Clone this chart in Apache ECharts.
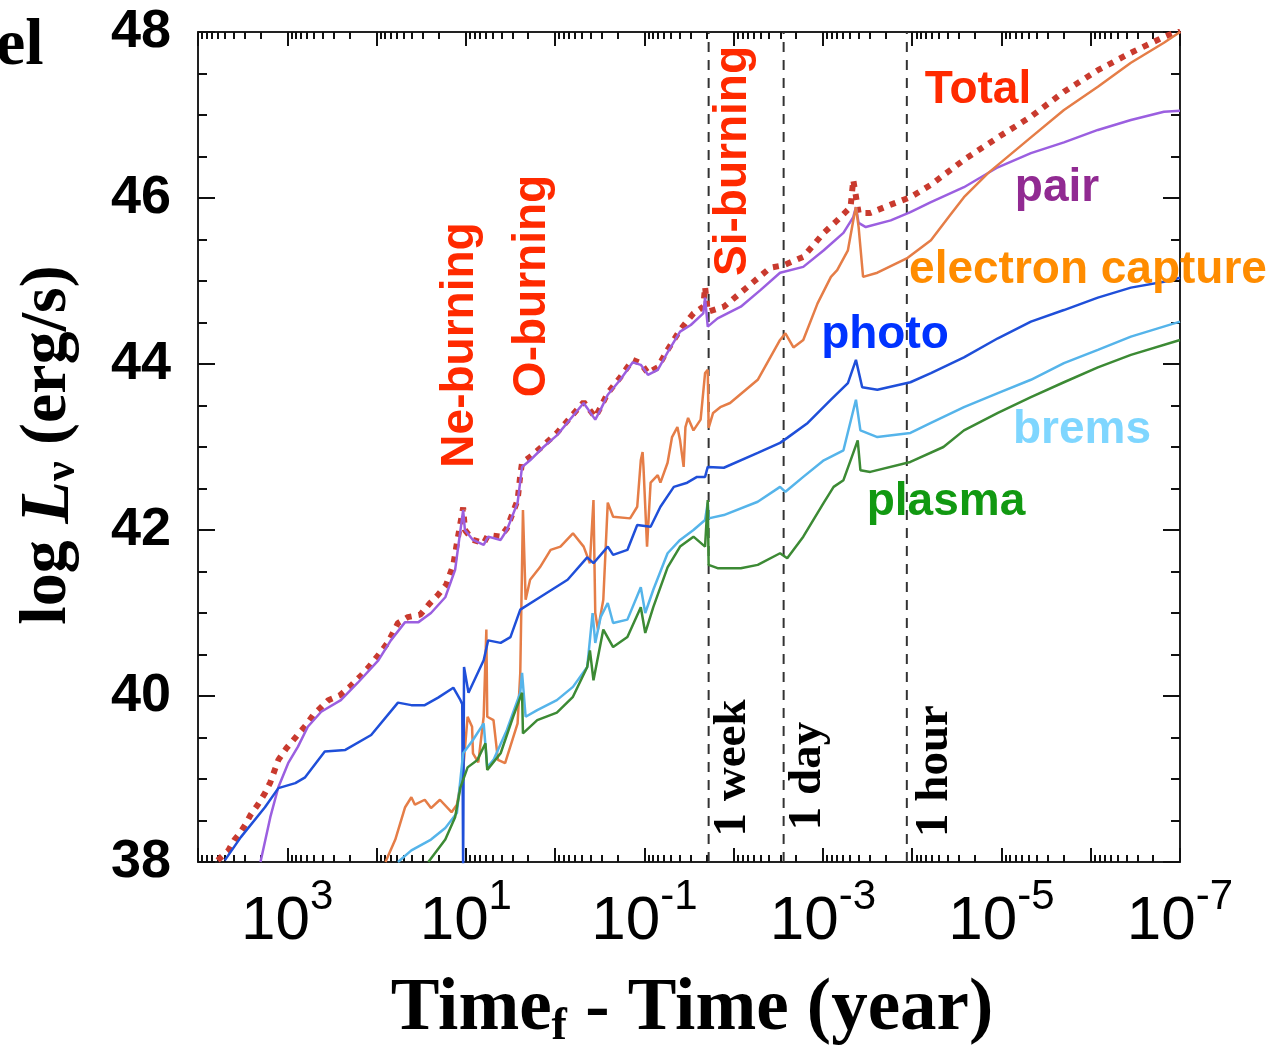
<!DOCTYPE html>
<html>
<head>
<meta charset="utf-8">
<script src="https://cdn.jsdelivr.net/npm/echarts@6/dist/echarts.min.js"></script>
<style>
  html, body { margin: 0; padding: 0; background: #fff; }
  #chart { width: 1277px; height: 1053px; }
</style>
</head>
<body>
<div id="chart"></div>
<script>
// points are [log10(Time_f - Time) in years, log L_nu in erg/s]
var total = [[3.78,38.02],[3.66,38.14],[3.59,38.27],[3.53,38.35],[3.47,38.45],[3.41,38.57],[3.33,38.69],[3.25,38.83],[3.19,38.96],[3.10,39.23],[3.01,39.37],[2.90,39.51],[2.79,39.65],[2.71,39.77],[2.54,39.95],[2.41,40.01],[2.30,40.11],[2.17,40.25],[2.07,40.37],[1.96,40.52],[1.87,40.65],[1.76,40.88],[1.65,40.95],[1.51,40.98],[1.40,41.12],[1.31,41.22],[1.22,41.34],[1.14,41.58],[1.10,41.84],[1.03,42.27],[1.01,42.0],[0.92,41.88],[0.80,41.84],[0.75,41.94],[0.61,41.92],[0.54,42.02],[0.42,42.36],[0.39,42.66],[0.37,42.81],[0.28,42.88],[0.13,43.02],[-0.02,43.17],[-0.32,43.54],[-0.45,43.36],[-0.51,43.48],[-0.59,43.65],[-0.73,43.84],[-0.87,44.05],[-0.96,44.01],[-1.04,43.89],[-1.15,43.96],[-1.26,44.17],[-1.40,44.41],[-1.55,44.61],[-1.66,44.69],[-1.68,44.93],[-1.71,44.63],[-1.89,44.69],[-2.08,44.86],[-2.41,45.16],[-2.56,45.19],[-2.78,45.29],[-3.01,45.58],[-3.16,45.73],[-3.31,45.89],[-3.34,46.22],[-3.40,45.82],[-3.53,45.82],[-3.76,45.92],[-3.98,46.01],[-4.21,46.16],[-4.58,46.46],[-4.96,46.73],[-5.33,46.98],[-5.70,47.28],[-6.08,47.54],[-6.45,47.75],[-6.82,47.94],[-7.0,48.02]];

var pair = [[3.30,38.0],[3.19,38.54],[3.10,38.90],[2.99,39.19],[2.88,39.39],[2.77,39.63],[2.62,39.81],[2.40,39.95],[2.21,40.16],[1.98,40.43],[1.84,40.67],[1.68,40.89],[1.53,40.89],[1.39,41.0],[1.23,41.19],[1.12,41.52],[1.09,41.76],[1.03,42.24],[1.01,42.0],[0.92,41.88],[0.80,41.82],[0.75,41.92],[0.61,41.88],[0.54,42.0],[0.42,42.33],[0.37,42.76],[0.28,42.84],[0.13,43.0],[-0.02,43.14],[-0.32,43.53],[-0.45,43.33],[-0.51,43.45],[-0.59,43.63],[-0.73,43.81],[-0.87,44.02],[-0.96,43.99],[-1.04,43.87],[-1.15,43.93],[-1.26,44.14],[-1.40,44.39],[-1.52,44.47],[-1.66,44.61],[-1.68,44.80],[-1.71,44.45],[-1.82,44.55],[-2.08,44.69],[-2.30,44.89],[-2.52,45.10],[-2.78,45.17],[-3.01,45.37],[-3.23,45.58],[-3.34,45.77],[-3.37,45.89],[-3.40,45.70],[-3.48,45.65],[-3.76,45.73],[-3.98,45.83],[-4.21,45.95],[-4.58,46.13],[-4.96,46.37],[-5.33,46.54],[-5.70,46.67],[-6.08,46.82],[-6.45,46.94],[-6.82,47.04],[-7.0,47.05]];

var electronCapture = [[1.90,38.0],[1.79,38.27],[1.68,38.66],[1.61,38.78],[1.57,38.69],[1.46,38.75],[1.39,38.65],[1.29,38.75],[1.16,38.60],[1.10,38.69],[1.03,39.11],[0.98,39.75],[0.93,39.63],[0.92,39.31],[0.86,39.20],[0.80,39.75],[0.77,40.80],[0.76,39.75],[0.69,39.71],[0.64,39.23],[0.56,39.19],[0.42,39.67],[0.39,40.28],[0.36,42.24],[0.33,41.16],[0.28,41.40],[0.17,41.55],[0.05,41.76],[-0.06,41.80],[-0.20,41.96],[-0.32,41.80],[-0.39,41.60],[-0.43,42.36],[-0.45,41.0],[-0.48,40.80],[-0.54,41.16],[-0.59,42.33],[-0.65,42.16],[-0.84,42.14],[-0.92,42.28],[-0.96,42.84],[-0.98,42.94],[-0.99,42.76],[-1.03,41.80],[-1.07,42.57],[-1.15,42.66],[-1.18,42.57],[-1.26,42.81],[-1.31,43.12],[-1.37,43.24],[-1.40,43.08],[-1.44,42.76],[-1.46,43.24],[-1.49,43.35],[-1.55,43.20],[-1.63,43.33],[-1.68,43.89],[-1.71,43.93],[-1.72,43.23],[-1.77,43.41],[-1.85,43.48],[-1.96,43.53],[-2.27,43.81],[-2.52,44.29],[-2.58,44.37],[-2.67,44.20],[-2.78,44.29],[-2.94,44.73],[-3.09,45.05],[-3.16,45.13],[-3.28,45.37],[-3.34,45.73],[-3.37,45.89],[-3.40,45.65],[-3.45,45.05],[-3.61,45.10],[-3.95,45.28],[-4.21,45.49],[-4.43,45.80],[-4.58,46.01],[-4.85,46.30],[-5.33,46.73],[-5.70,47.06],[-6.08,47.34],[-6.45,47.63],[-6.82,47.87],[-7.0,48.0]];

var photo = [[3.70,38.02],[3.52,38.30],[3.25,38.66],[3.10,38.89],[2.91,38.95],[2.80,39.02],[2.58,39.33],[2.35,39.35],[2.06,39.53],[1.76,39.92],[1.61,39.89],[1.46,39.89],[1.31,39.98],[1.14,40.10],[1.06,39.95],[1.04,39.9],[1.03,37.9],[1.02,40.35],[0.97,40.04],[0.80,40.43],[0.75,40.67],[0.61,40.64],[0.50,40.71],[0.39,41.04],[0.17,41.19],[-0.14,41.40],[-0.36,41.67],[-0.43,41.60],[-0.59,41.80],[-0.65,41.70],[-0.81,41.76],[-0.92,42.06],[-1.07,42.04],[-1.18,42.28],[-1.33,42.52],[-1.48,42.57],[-1.59,42.64],[-1.68,42.64],[-1.71,42.76],[-1.89,42.75],[-2.27,42.93],[-2.52,43.05],[-2.60,43.11],[-2.83,43.29],[-3.09,43.57],[-3.28,43.77],[-3.37,44.05],[-3.44,43.72],[-3.61,43.69],[-3.98,43.78],[-4.21,43.89],[-4.58,44.08],[-4.96,44.31],[-5.33,44.51],[-5.70,44.65],[-6.08,44.80],[-6.45,44.92],[-6.82,44.99],[-7.0,45.04]];

var brems = [[1.76,38.0],[1.61,38.14],[1.39,38.27],[1.23,38.41],[1.10,38.59],[1.03,39.31],[0.92,39.47],[0.80,39.67],[0.76,39.14],[0.69,39.23],[0.54,39.59],[0.39,40.04],[0.37,40.28],[0.33,39.75],[0.20,39.83],[-0.02,39.95],[-0.20,40.11],[-0.36,40.35],[-0.42,41.0],[-0.45,40.64],[-0.51,40.95],[-0.59,41.12],[-0.65,40.88],[-0.81,40.92],[-0.96,41.31],[-1.01,41.0],[-1.10,41.28],[-1.26,41.72],[-1.40,41.88],[-1.55,42.0],[-1.68,42.12],[-1.71,42.33],[-1.72,42.14],[-1.89,42.18],[-2.27,42.34],[-2.52,42.52],[-2.58,42.46],[-2.78,42.64],[-3.01,42.84],[-3.23,42.96],[-3.37,43.57],[-3.42,43.20],[-3.61,43.12],[-3.98,43.17],[-4.21,43.29],[-4.58,43.48],[-4.96,43.65],[-5.33,43.81],[-5.70,44.01],[-6.08,44.17],[-6.45,44.33],[-7.0,44.51]];

var plasma = [[1.42,38.0],[1.23,38.27],[1.12,38.54],[1.06,38.90],[0.98,39.14],[0.87,39.23],[0.78,39.43],[0.76,39.11],[0.61,39.31],[0.47,39.75],[0.37,40.04],[0.36,39.55],[0.20,39.71],[-0.02,39.80],[-0.20,39.99],[-0.36,40.35],[-0.39,40.55],[-0.43,40.19],[-0.54,40.80],[-0.65,40.59],[-0.81,40.71],[-0.96,41.07],[-1.01,40.76],[-1.10,41.07],[-1.26,41.55],[-1.40,41.80],[-1.55,41.92],[-1.68,41.80],[-1.71,42.36],[-1.72,41.58],[-1.82,41.54],[-2.08,41.54],[-2.27,41.58],[-2.52,41.72],[-2.60,41.66],[-2.78,41.92],[-3.01,42.33],[-3.12,42.52],[-3.23,42.60],[-3.34,42.93],[-3.39,43.08],[-3.42,42.72],[-3.53,42.70],[-3.98,42.82],[-4.35,43.0],[-4.58,43.20],[-4.96,43.41],[-5.33,43.60],[-5.70,43.78],[-6.08,43.96],[-6.45,44.11],[-7.0,44.29]];

var eventNames = ['1 week', '1 day', '1 hour'];
var eventTimes = [-1.72, -2.56, -3.94];   // log10 of a week, a day, an hour in years

var xLabels = [3, 1, -1, -3, -5, -7];
var xMin = -7, xMax = 4;
var yMin = 38, yMax = 48;

var majorX = [];
var minorX = [];
for (var n = xMin; n <= xMax; n++) majorX.push(n);
for (var n = xMin; n < xMax; n++) {
  for (var k = 2; k <= 9; k++) minorX.push(n + Math.log10(k));
}

var sans = 'Liberation Sans';
var serif = 'Liberation Serif';

function xAxisBase(pos, show, ticks, len) {
  return {
    type: 'value', position: pos, min: xMin, max: xMax, inverse: true,
    axisLine: { show: show, onZero: false, lineStyle: { color: '#222', width: 2 } },
    axisTick: { show: true, inside: true, length: len, customValues: ticks, lineStyle: { color: '#111', width: 2 } },
    axisLabel: { show: false },
    splitLine: { show: false }
  };
}

var xBottom = xAxisBase('bottom', true, majorX, 14);
xBottom.axisLabel = {
  show: true, customValues: xLabels, margin: 14, color: '#000',
  formatter: function (v) { return '{b|10}{s|' + v + '}'; },
  rich: {
    b: { fontFamily: sans, fontSize: 62, color: '#000', verticalAlign: 'middle', lineHeight: 92 },
    s: { fontFamily: sans, fontSize: 42, color: '#000', verticalAlign: 'top', lineHeight: 42 }
  }
};

function yAxisBase(pos, labels) {
  return {
    type: 'value', position: pos, min: yMin, max: yMax, interval: 2,
    axisLine: { show: true, onZero: false, lineStyle: { color: '#222', width: 2 } },
    axisTick: { show: true, inside: true, length: 17, lineStyle: { color: '#111', width: 2 } },
    minorTick: { show: true, splitNumber: 4, length: 9, lineStyle: { color: '#111', width: 2 } },
    axisLabel: labels ? { show: true, margin: 27, fontFamily: sans, fontWeight: 'bold', fontSize: 54, color: '#000' } : { show: false },
    splitLine: { show: false }
  };
}

function curve(name, data, color, width, dash) {
  return {
    name: name, type: 'line', data: data, xAxisIndex: 0, yAxisIndex: 0,
    symbol: 'none', clip: true,
    lineStyle: { color: color, width: width, type: dash || 'solid', cap: 'butt' }
  };
}

var series = [];
eventTimes.forEach(function (t, i) {
  series.push({
    name: eventNames[i], type: 'line', data: [[t, yMin], [t, yMax]], symbol: 'none',
    lineStyle: { color: '#333', width: 2, type: [10, 8] }
  });
});
series.push(curve('Total', total, '#c93a2e', 6, [6, 7]));
series.push(curve('pair', pair, '#9b5fe0', 2.5));
series.push(curve('electron capture', electronCapture, '#e57d47', 2.5));
series.push(curve('photo', photo, '#1f4fd9', 2.5));
series.push(curve('brems', brems, '#55b4ea', 2.5));
series.push(curve('plasma', plasma, '#3c8a34', 2.5));

function label(text, x, y, color, size, rotate, family, weight) {
  return {
    type: 'text', x: x, y: y, rotation: rotate ? Math.PI / 2 : 0, z: 100,
    style: {
      text: text, fill: color, textAlign: 'center', textVerticalAlign: 'middle',
      font: (weight || 'bold') + ' ' + size + 'px "' + (family || sans) + '"'
    }
  };
}

var graphics = [
  label('Total', 978, 90, '#ff2a00', 46),
  label('pair', 1057, 188, '#912a92', 46),
  label('electron capture', 1088, 270, '#ff8c00', 46),
  label('photo', 885, 335, '#0033ff', 46),
  label('brems', 1082, 430, '#7fd6ff', 46),
  label('plasma', 946, 502, '#119911', 46),
  label('Ne-burning', 460, 345, '#ff2a00', 46, true),
  label('O-burning', 532, 286, '#ff2a00', 46, true),
  label('Si-burning', 733, 161, '#ff2a00', 46, true),
  label('1 week', 733, 768, '#000', 47, true, serif),
  label('1 day', 808, 776, '#000', 47, true, serif),
  label('1 hour', 935, 771, '#000', 47, true, serif),
  {
    type: 'text', x: -4, y: 47, z: 100,
    style: { text: 'el', fill: '#000', textAlign: 'left', textVerticalAlign: 'middle', font: 'bold 66px "Liberation Serif"' }
  },
  {
    type: 'text', x: 50, y: 445, rotation: Math.PI / 2, z: 100,
    style: {
      text: '{n|log }{i|L}{s|ν}{n| (erg/s)}', textAlign: 'center', textVerticalAlign: 'middle',
      rich: {
        n: { fontFamily: serif, fontWeight: 'bold', fontSize: 66, fill: '#000', verticalAlign: 'top', lineHeight: 70 },
        i: { fontFamily: serif, fontWeight: 'bold', fontStyle: 'italic', fontSize: 70, fill: '#000', verticalAlign: 'top', lineHeight: 70 },
        s: { fontFamily: serif, fontWeight: 'bold', fontSize: 44, fill: '#000', verticalAlign: 'bottom', lineHeight: 44, padding: [20, 0, 0, 0] }
      }
    }
  },
  {
    type: 'text', x: 692, y: 1012, z: 100,
    style: {
      text: '{n|Time}{s|f}{n| - Time (year)}', textAlign: 'center', textVerticalAlign: 'middle',
      rich: {
        n: { fontFamily: serif, fontWeight: 'bold', fontSize: 73, fill: '#000', verticalAlign: 'top', lineHeight: 76 },
        s: { fontFamily: serif, fontWeight: 'bold', fontSize: 46, fill: '#000', verticalAlign: 'bottom', lineHeight: 46, padding: [30, 0, 0, 0] }
      }
    }
  }
];

var chart = echarts.init(document.getElementById('chart'), null, { renderer: 'canvas' });
chart.setOption({
  animation: false,
  backgroundColor: '#fff',
  grid: { left: 198, right: 97, top: 32, bottom: 191, outerBoundsMode: 'none' },
  xAxis: [
    xBottom,
    xAxisBase('top', true, majorX, 14),
    xAxisBase('bottom', false, minorX, 7),
    xAxisBase('top', false, minorX, 7)
  ],
  yAxis: [yAxisBase('left', true), yAxisBase('right', false)],
  series: series,
  graphic: graphics
});
</script>
</body>
</html>
